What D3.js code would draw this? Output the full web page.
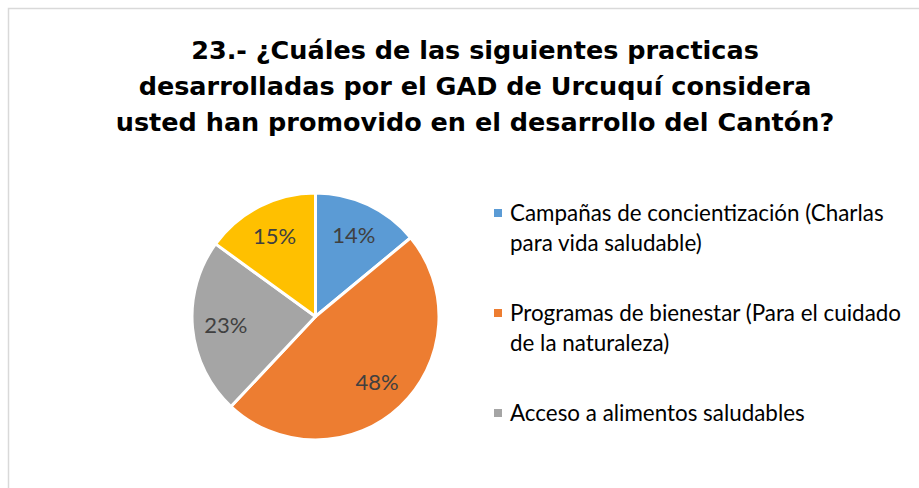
<!DOCTYPE html>
<html>
<head>
<meta charset="utf-8">
<script src="https://cdn.jsdelivr.net/npm/d3@7"></script>
<style>
  body { margin: 0; background: #fff; }
  svg { display: block; }
</style>
</head>
<body>
<script>
  var w = 919, h = 488;

  // data
  var categories = [
    "Campañas de concientización (Charlas para vida saludable)",
    "Programas de bienestar (Para el cuidado de la naturaleza)",
    "Acceso a alimentos saludables",
    ""
  ];
  var legendLines = [
    ["Campañas de concientización (Charlas", "para vida saludable)"],
    ["Programas de bienestar (Para el cuidado", "de la naturaleza)"],
    ["Acceso a alimentos saludables"]
  ];
  var values = [14, 48, 23, 15];
  var colors = ["#5B9BD5", "#ED7D31", "#A5A5A5", "#FFC000"];
  var titleLines = [
    "23.- ¿Cuáles de las siguientes practicas",
    "desarrolladas por el GAD de Urcuquí considera",
    "usted han promovido en el desarrollo del Cantón?"
  ];

  var svg = d3.select('body').append('svg')
    .attr('width', w).attr('height', h);

  // chart frame
  svg.append('rect')
    .attr('x', 8.5).attr('y', 8.5)
    .attr('width', w + 10).attr('height', h + 10)
    .attr('fill', '#fff')
    .attr('stroke', '#d9d9d9').attr('stroke-width', 1.5);

  // title
  svg.append('g').selectAll('text')
    .data(titleLines).enter().append('text')
    .attr('x', 475)
    .attr('y', function(d, i) { return 59 + i * 36; })
    .attr('text-anchor', 'middle')
    .attr('font-family', 'DejaVu Sans, sans-serif')
    .attr('font-weight', 'bold')
    .attr('font-size', '25.5px')
    .attr('fill', '#000')
    .text(function(d) { return d; });

  /* PIE */
  var cx = 315.5, cy = 316.5, r = 123.5;
  var pie = d3.pie().sort(null).value(function(d) { return d; });
  var arc = d3.arc().innerRadius(0).outerRadius(r);
  var labelArc = d3.arc().innerRadius(90).outerRadius(90);

  var g = svg.append('g').attr('transform', 'translate(' + cx + ',' + cy + ')');
  var arcs = pie(values);

  g.selectAll('path').data(arcs).enter().append('path')
    .attr('d', arc)
    .attr('fill', function(d, i) { return colors[i]; })
    .attr('stroke', '#fff')
    .attr('stroke-width', 3)
    .attr('stroke-linejoin', 'round');

  g.selectAll('text').data(arcs).enter().append('text')
    .attr('transform', function(d) { return 'translate(' + labelArc.centroid(d) + ')'; })
    .attr('text-anchor', 'middle')
    .attr('dy', '0.35em')
    .attr('font-family', 'Lato, sans-serif')
    .attr('font-size', '22px')
    .attr('fill', '#404040')
    .text(function(d) { return d.value + '%'; });

  /* LEGEND */
  var lg = svg.append('g').attr('transform', 'translate(494,0)');
  var legendY = [213, 313, 413];
  var items = lg.selectAll('g').data(legendLines).enter().append('g')
    .attr('transform', function(d, i) { return 'translate(0,' + legendY[i] + ')'; });

  items.append('rect')
    .attr('x', 0).attr('y', -4)
    .attr('width', 8).attr('height', 8)
    .attr('fill', function(d, i) { return colors[i]; });

  items.selectAll('text').data(function(d) { return d; }).enter().append('text')
    .attr('x', 16)
    .attr('y', function(d, i) { return i * 30; })
    .attr('dy', '0.35em')
    .attr('font-family', 'Lato, sans-serif')
    .attr('font-size', '22.4px')
    .attr('fill', '#000')
    .text(function(d) { return d; });
</script>
</body>
</html>
